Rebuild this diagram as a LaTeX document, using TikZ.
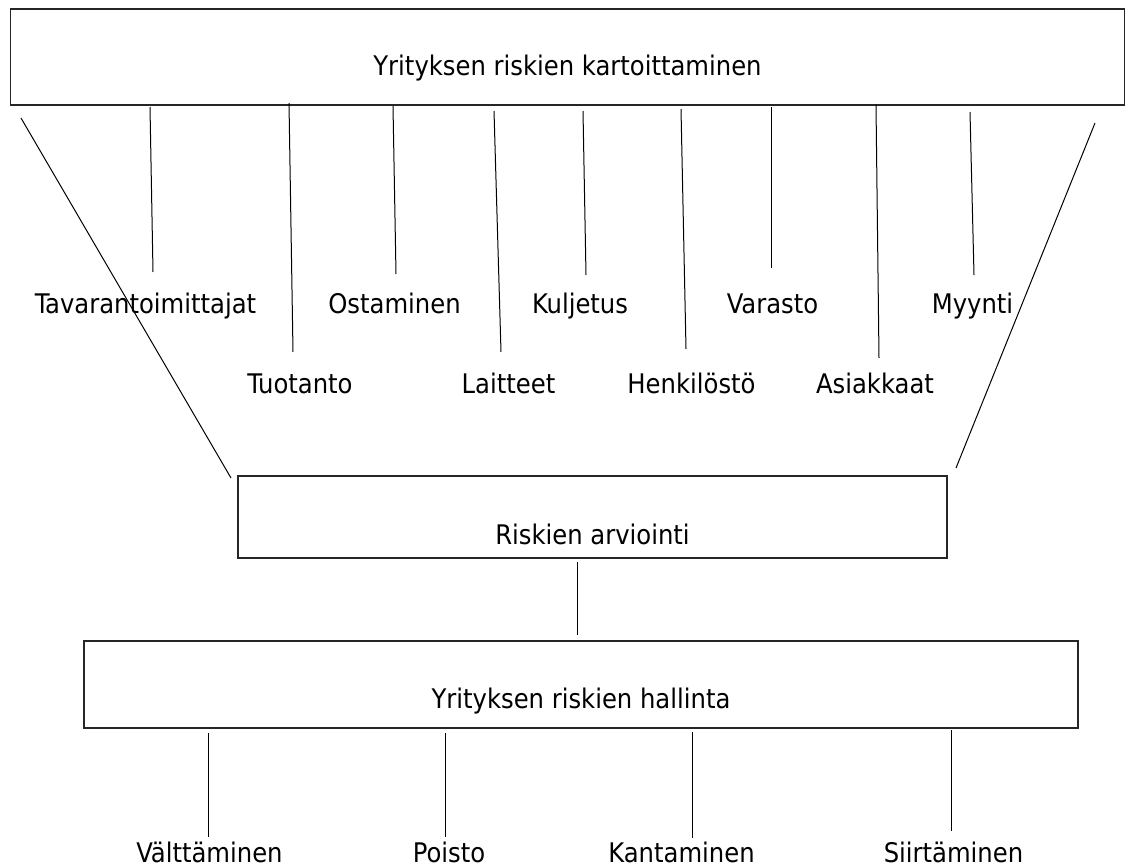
\documentclass[tikz,border=0pt]{standalone}
\usepackage{fontspec}
\setmainfont{DejaVu Sans Condensed}
\usepackage{tikz}
\usetikzlibrary{positioning, calc}

\begin{document}
\begin{tikzpicture}[
  x=1pt, y=-1pt,
  frame/.style={rectangle, draw=black!85, line width=1.4pt, inner sep=0pt},
  lbl/.style={anchor=base, inner sep=0pt, font=\fontsize{27}{32}\selectfont},
  link/.style={draw=black, line width=1pt},
]
  \useasboundingbox (0,0) rectangle (1125,867);

  % Boxes
  \node[frame, minimum width=1114pt, minimum height=96pt] (kart) at (567.5,57) {};
  \node[frame, minimum width=709pt, minimum height=82pt] (arvi) at (592.5,517) {};
  \node[frame, minimum width=994pt, minimum height=87pt] (hall) at (581,684.5) {};

  % Box texts
  \node[lbl] (kartT) at (567.5,76) {Yrityksen riskien kartoittaminen};
  \node[lbl] (arviT) at (592.5,544) {Riskien arviointi};
  \node[lbl] (hallT) at (581,708) {Yrityksen riskien hallinta};

  % Risk areas, upper row
  \node[lbl] (tav) at (145.5,313) {Tavarantoimittajat};
  \node[lbl] (ost) at (394.5,313) {Ostaminen};
  \node[lbl] (kul) at (580,313) {Kuljetus};
  \node[lbl] (var) at (772.5,313) {Varasto};
  \node[lbl] (myy) at (972.5,313) {Myynti};

  % Risk areas, lower row
  \node[lbl] (tuo) at (300,393) {Tuotanto};
  \node[lbl] (lai) at (508.5,393) {Laitteet};
  \node[lbl] (hen) at (691.5,393) {Henkilöstö};
  \node[lbl] (asi) at (875,393) {Asiakkaat};

  % Ways of handling
  \node[lbl] (val) at (209.5,862) {Välttäminen};
  \node[lbl] (poi) at (449,862) {Poisto};
  \node[lbl] (kan) at (681.5,862) {Kantaminen};
  \node[lbl] (sii) at (953.5,862) {Siirtäminen};

  % Connector ends
  \foreach \n/\xa/\ya/\xb/\yb in {
      tav/150/107/153/272, tuo/289/103/293/352, ost/393/106/396/274,
      lai/494/111/501/352, kul/583/111/586/275, hen/681/109/686/349,
      var/771/107/771/268, asi/876/105/879/358, myy/970/112/974/275,
      val/208/733/208/837, poi/445/733/445/837, kan/692/732/692/838,
      sii/951/730/951/831}{
    \coordinate (\n-a) at (\xa,\ya);
    \coordinate (\n-b) at (\xb,\yb);
  }
  \coordinate (funL-a) at (21,118);
  \coordinate (funL-b) at (231,478);
  \coordinate (funR-a) at (1095,123);
  \coordinate (funR-b) at (956,468);
  \coordinate (mid-a) at (577,562);
  \coordinate (mid-b) at (577,635);

  % Connectors
  \foreach \n in {tav, tuo, ost, lai, kul, hen, var, asi, myy, val, poi, kan, sii, funL, funR, mid}
    \draw[link] (\n-a) -- (\n-b);
\end{tikzpicture}
\end{document}
